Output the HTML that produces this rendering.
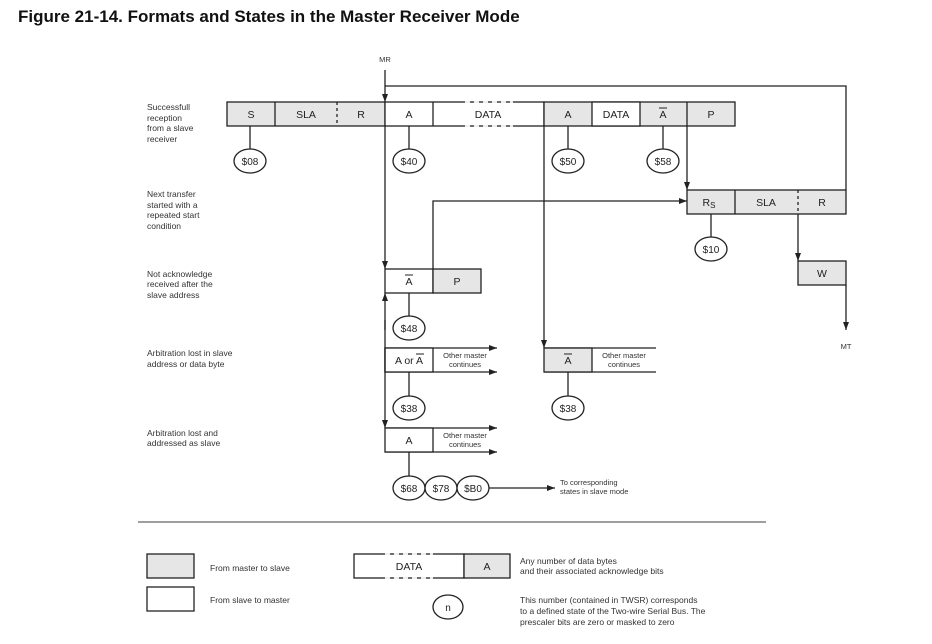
<!DOCTYPE html>
<html><head><meta charset="utf-8"><style>body{margin:0;background:#fff}svg{display:block}text{font-family:"Liberation Sans",sans-serif}</style></head><body>
<svg width="932" height="644" viewBox="0 0 932 644" xmlns="http://www.w3.org/2000/svg">
<defs><marker id="a" markerWidth="8" markerHeight="6" refX="8" refY="3" orient="auto" markerUnits="userSpaceOnUse"><path d="M0,0 L8,3 L0,6z" fill="#222"/></marker></defs>
<text x="18" y="22" font-size="17" font-weight="bold" fill="#111">Figure 21-14. Formats and States in the Master Receiver Mode</text>
<g font-size="8.5" fill="#333">
<text x="147" y="110">Successfull</text><text x="147" y="121">reception</text><text x="147" y="131">from a slave</text><text x="147" y="142">receiver</text>
<text x="147" y="197">Next transfer</text><text x="147" y="208">started with a</text><text x="147" y="218">repeated start</text><text x="147" y="229">condition</text>
<text x="147" y="277">Not acknowledge</text><text x="147" y="287">received after the</text><text x="147" y="298">slave address</text>
<text x="147" y="356">Arbitration lost in slave</text><text x="147" y="367">address or data byte</text>
<text x="147" y="436">Arbitration lost and</text><text x="147" y="446">addressed as slave</text>
</g>
<g stroke="#222" stroke-width="1.3" fill="none">
<line x1="385" y1="70" x2="385" y2="102" marker-end="url(#a)"/>
<polyline points="385,86 846,86 846,190"/>
<line x1="385" y1="126" x2="385" y2="269" marker-end="url(#a)"/>
<line x1="687" y1="126" x2="687" y2="190" marker-end="url(#a)"/>
<polyline points="433,269 433,201 687,201" marker-end="url(#a)"/>
<line x1="798" y1="214" x2="798" y2="261" marker-end="url(#a)"/>
<line x1="846" y1="285" x2="846" y2="330" marker-end="url(#a)"/>
<line x1="385" y1="330" x2="385" y2="293" marker-end="url(#a)"/>
<line x1="385" y1="320" x2="385" y2="428" marker-end="url(#a)"/>
<line x1="544" y1="126" x2="544" y2="348" marker-end="url(#a)"/>
<line x1="385" y1="348" x2="497" y2="348" marker-end="url(#a)"/>
<line x1="385" y1="372" x2="497" y2="372" marker-end="url(#a)"/>
<line x1="544" y1="348" x2="656" y2="348"/>
<line x1="544" y1="372" x2="656" y2="372"/>
<line x1="385" y1="428" x2="497" y2="428" marker-end="url(#a)"/>
<line x1="385" y1="452" x2="497" y2="452" marker-end="url(#a)"/>
<line x1="489" y1="488" x2="555" y2="488" marker-end="url(#a)"/>
<line x1="250" y1="126" x2="250" y2="149"/><line x1="409" y1="126" x2="409" y2="149"/>
<line x1="568" y1="126" x2="568" y2="149"/><line x1="663" y1="126" x2="663" y2="149"/>
<line x1="711" y1="214" x2="711" y2="237"/><line x1="409" y1="293" x2="409" y2="316"/>
<line x1="409" y1="372" x2="409" y2="396"/><line x1="568" y1="372" x2="568" y2="396"/>
<line x1="409" y1="452" x2="409" y2="476"/>
</g>
<g stroke="#222" stroke-width="1.3">
<rect x="227" y="102" width="158" height="24" fill="#e6e6e6"/>
<line x1="275" y1="102" x2="275" y2="126"/>
<line x1="337" y1="102" x2="337" y2="126" stroke-dasharray="3,3"/>
<rect x="385" y="102" width="159" height="24" fill="#fff"/>
<line x1="433" y1="102" x2="433" y2="126"/>
<rect x="544" y="102" width="191" height="24" fill="#e6e6e6"/>
<rect x="592" y="102" width="48" height="24" fill="#fff"/>
<line x1="687" y1="102" x2="687" y2="126"/>
<rect x="687" y="190" width="159" height="24" fill="#e6e6e6"/>
<line x1="735" y1="190" x2="735" y2="214"/>
<line x1="798" y1="190" x2="798" y2="214" stroke-dasharray="3,3"/>
<rect x="798" y="261" width="48" height="24" fill="#e6e6e6"/>
<rect x="385" y="269" width="48" height="24" fill="#fff"/>
<rect x="433" y="269" width="48" height="24" fill="#e6e6e6"/>
<rect x="385" y="348" width="48" height="24" fill="#fff"/>
<rect x="544" y="348" width="48" height="24" fill="#e6e6e6"/>
<rect x="385" y="428" width="48" height="24" fill="#fff"/>
<rect x="147" y="554" width="47" height="24" fill="#e6e6e6"/>
<rect x="147" y="587" width="47" height="24" fill="#fff"/>
<rect x="354" y="554" width="110" height="24" fill="#fff"/>
<rect x="464" y="554" width="46" height="24" fill="#e6e6e6"/>
</g>
<g stroke="#fff" stroke-width="1.6" stroke-dasharray="5,4"><line x1="465" y1="102" x2="513" y2="102"/><line x1="465" y1="126" x2="513" y2="126"/><line x1="385" y1="554" x2="433" y2="554"/><line x1="385" y1="578" x2="433" y2="578"/></g>
<line x1="385" y1="348" x2="385" y2="372" stroke="#222" stroke-width="1.3"/>
<g fill="#fff" stroke="#222" stroke-width="1.3">
<ellipse cx="250" cy="161" rx="16" ry="12"/><ellipse cx="409" cy="161" rx="16" ry="12"/>
<ellipse cx="568" cy="161" rx="16" ry="12"/><ellipse cx="663" cy="161" rx="16" ry="12"/>
<ellipse cx="711" cy="249" rx="16" ry="12"/><ellipse cx="409" cy="328" rx="16" ry="12"/>
<ellipse cx="409" cy="408" rx="16" ry="12"/><ellipse cx="568" cy="408" rx="16" ry="12"/>
<ellipse cx="409" cy="488" rx="16" ry="12"/><ellipse cx="441" cy="488" rx="16" ry="12"/><ellipse cx="473" cy="488" rx="16" ry="12"/>
<ellipse cx="448" cy="607" rx="15" ry="12"/>
</g>
<g font-size="10.5" fill="#222" text-anchor="middle">
<text x="251" y="118">S</text><text x="306" y="118">SLA</text><text x="361" y="118">R</text><text x="409" y="118">A</text>
<text x="488" y="118">DATA</text><text x="568" y="118">A</text><text x="616" y="118">DATA</text><text x="663" y="118">A</text><text x="711" y="118">P</text>
<text x="709" y="206">R<tspan font-size="8" dy="2">S</tspan></text><text x="766" y="206">SLA</text><text x="822" y="206">R</text>
<text x="822" y="277">W</text><text x="409" y="285">A</text><text x="457" y="285">P</text>
<text x="409" y="364">A or A</text><text x="568" y="364">A</text><text x="409" y="444">A</text>
<text x="250" y="165" font-size="10">$08</text><text x="409" y="165" font-size="10">$40</text>
<text x="568" y="165" font-size="10">$50</text><text x="663" y="165" font-size="10">$58</text>
<text x="711" y="253" font-size="10">$10</text><text x="409" y="332" font-size="10">$48</text>
<text x="409" y="412" font-size="10">$38</text><text x="568" y="412" font-size="10">$38</text>
<text x="409" y="492" font-size="10">$68</text><text x="441" y="492" font-size="10">$78</text><text x="473" y="492" font-size="10">$B0</text>
<text x="448" y="611" font-size="10">n</text>
<text x="409" y="570">DATA</text><text x="487" y="570">A</text>
</g>
<g stroke="#222" stroke-width="1"><line x1="659" y1="108" x2="667" y2="108"/><line x1="405" y1="275" x2="413" y2="275"/><line x1="416" y1="354" x2="424" y2="354"/><line x1="564" y1="354" x2="572" y2="354"/></g>
<g font-size="7.5" fill="#333" text-anchor="middle">
<text x="385" y="62">MR</text><text x="846" y="349">MT</text>
<text x="465" y="358">Other master</text><text x="465" y="367">continues</text>
<text x="624" y="358">Other master</text><text x="624" y="367">continues</text>
<text x="465" y="438">Other master</text><text x="465" y="447">continues</text>
<text x="560" y="485" text-anchor="start">To corresponding</text><text x="560" y="494" text-anchor="start">states in slave mode</text>
</g>
<line x1="138" y1="522" x2="766" y2="522" stroke="#666" stroke-width="1.3"/>
<g font-size="8.5" fill="#333">
<text x="210" y="571">From master to slave</text><text x="210" y="603">From slave to master</text>
<text x="520" y="564">Any number of data bytes</text><text x="520" y="574">and their associated acknowledge bits</text>
<text x="520" y="603">This number (contained in TWSR) corresponds</text>
<text x="520" y="614">to a defined state of the Two-wire Serial Bus. The</text>
<text x="520" y="625">prescaler bits are zero or masked to zero</text>
</g>
</svg>
</body></html>
